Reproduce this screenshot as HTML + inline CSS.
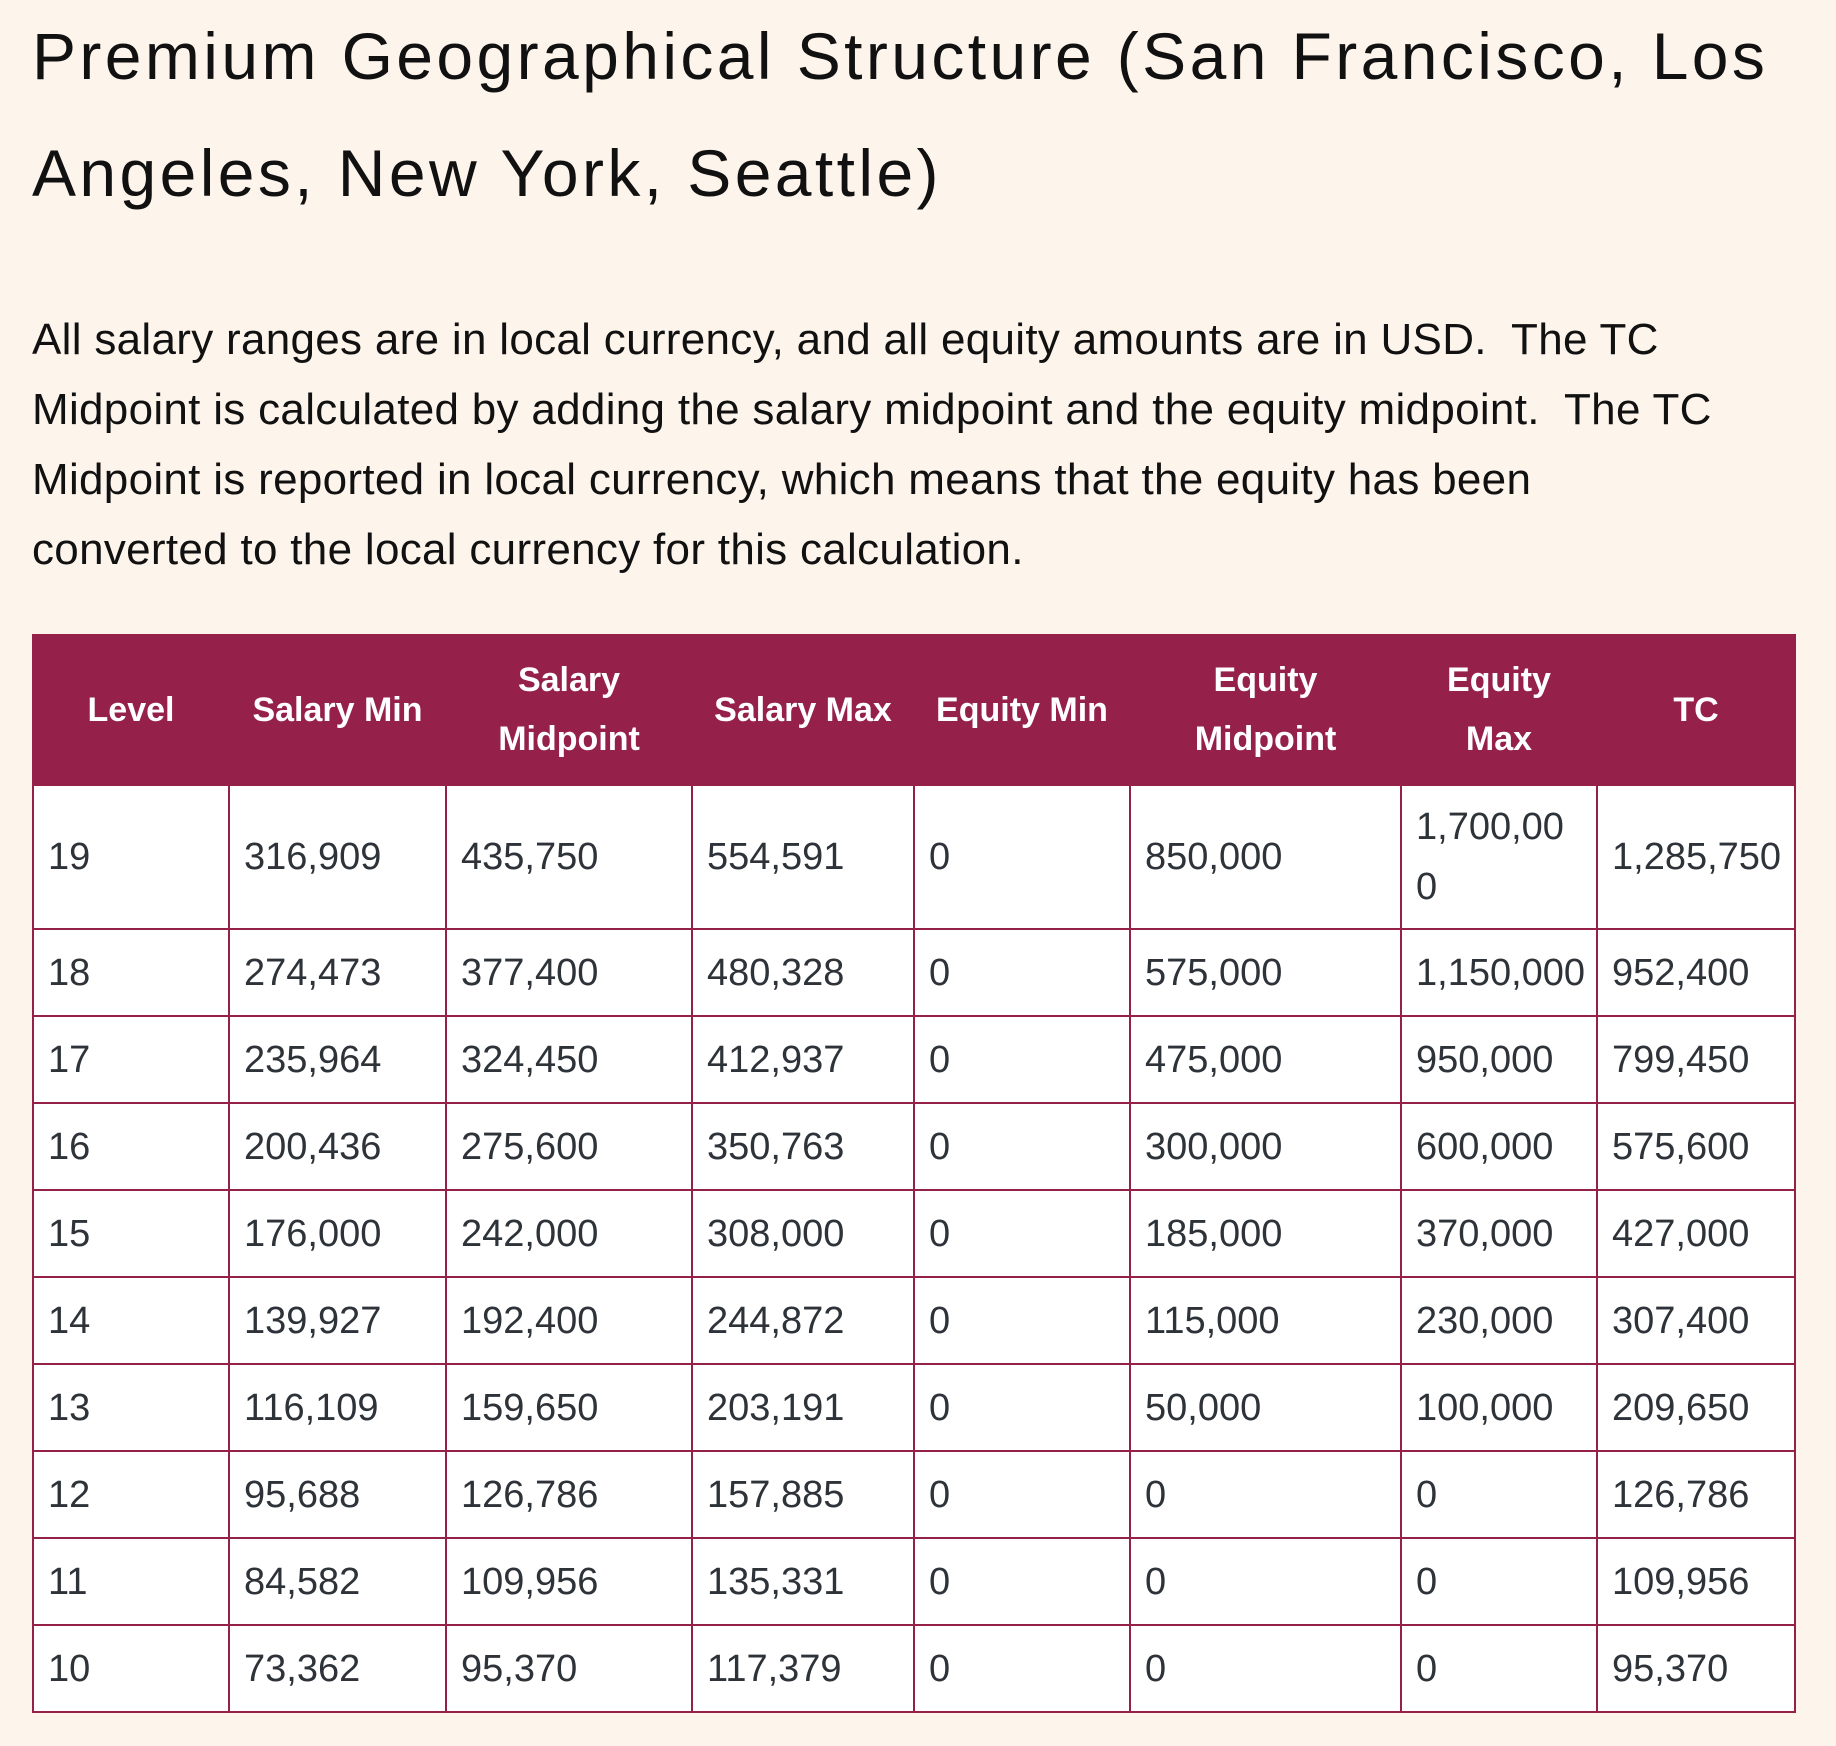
<!DOCTYPE html>
<html><head><meta charset="utf-8"><style>
body{margin:0;background:#fdf4ec;width:1836px;height:1746px;overflow:hidden;font-family:"Liberation Sans",sans-serif;color:#111;}
h1{position:absolute;left:32px;top:-2px;margin:0;font-weight:normal;font-size:66px;line-height:117px;width:1820px;letter-spacing:3.4px;white-space:nowrap;}
p{position:absolute;left:32px;top:305px;margin:0;font-size:44px;line-height:70px;width:1820px;white-space:nowrap;letter-spacing:0.3px;}
table{position:absolute;left:32px;top:634px;border-collapse:collapse;table-layout:fixed;width:1762px;}
th{background:#95214a;color:#fff;font-weight:bold;font-size:34px;line-height:59px;height:148px;padding:0 4px;text-align:center;border:2px solid #95214a;}
td{background:#fff;color:#2d3339;font-size:38px;line-height:60px;border:2px solid #95214a;padding:0 0 0 14px;height:85px;white-space:nowrap;overflow:hidden;}
tr.r19 td{height:142px;}
</style></head><body>
<h1>Premium Geographical Structure (San Francisco, Los<br>Angeles, New York, Seattle)</h1>
<p>All salary ranges are in local currency, and all equity amounts are in USD.&nbsp; The TC<br>Midpoint is calculated by adding the salary midpoint and the equity midpoint.&nbsp; The TC<br>Midpoint is reported in local currency, which means that the equity has been<br>converted to the local currency for this calculation.</p>
<table>
<colgroup><col style="width:196px"><col style="width:217px"><col style="width:246px"><col style="width:222px"><col style="width:216px"><col style="width:271px"><col style="width:196px"><col style="width:198px"></colgroup>
<tr><th>Level</th><th>Salary Min</th><th>Salary<br>Midpoint</th><th>Salary Max</th><th>Equity Min</th><th>Equity<br>Midpoint</th><th>Equity<br>Max</th><th>TC</th></tr>
<tr class="r19"><td>19</td><td>316,909</td><td>435,750</td><td>554,591</td><td>0</td><td>850,000</td><td>1,700,00<br>0</td><td>1,285,750</td></tr>
<tr><td>18</td><td>274,473</td><td>377,400</td><td>480,328</td><td>0</td><td>575,000</td><td>1,150,000</td><td>952,400</td></tr>
<tr><td>17</td><td>235,964</td><td>324,450</td><td>412,937</td><td>0</td><td>475,000</td><td>950,000</td><td>799,450</td></tr>
<tr><td>16</td><td>200,436</td><td>275,600</td><td>350,763</td><td>0</td><td>300,000</td><td>600,000</td><td>575,600</td></tr>
<tr><td>15</td><td>176,000</td><td>242,000</td><td>308,000</td><td>0</td><td>185,000</td><td>370,000</td><td>427,000</td></tr>
<tr><td>14</td><td>139,927</td><td>192,400</td><td>244,872</td><td>0</td><td>115,000</td><td>230,000</td><td>307,400</td></tr>
<tr><td>13</td><td>116,109</td><td>159,650</td><td>203,191</td><td>0</td><td>50,000</td><td>100,000</td><td>209,650</td></tr>
<tr><td>12</td><td>95,688</td><td>126,786</td><td>157,885</td><td>0</td><td>0</td><td>0</td><td>126,786</td></tr>
<tr><td>11</td><td>84,582</td><td>109,956</td><td>135,331</td><td>0</td><td>0</td><td>0</td><td>109,956</td></tr>
<tr><td>10</td><td>73,362</td><td>95,370</td><td>117,379</td><td>0</td><td>0</td><td>0</td><td>95,370</td></tr>
</table>
</body></html>
